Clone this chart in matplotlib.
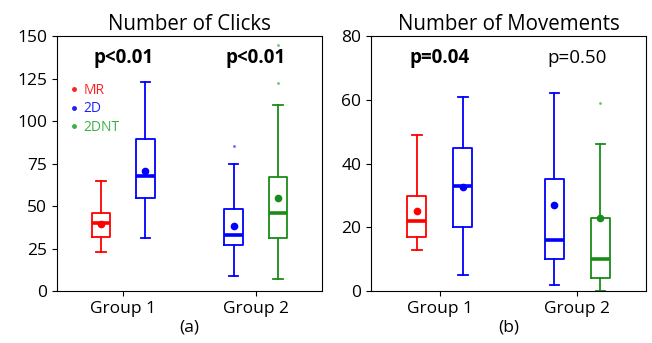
import numpy as np
import matplotlib
matplotlib.use("Agg")
import matplotlib.pyplot as plt
from matplotlib.lines import Line2D

plt.rcParams['font.family'] = ['Open Sans', 'DejaVu Sans']

groups = ["Group 1", "Group 2"]
conditions = [["MR", "2D"], ["2D", "2DNT"]]
colors = {"MR": "#ff0000", "2D": "#0000ff", "2DNT": "#1a8c1a"}
legend_colors = {"MR": "#ff2020", "2D": "#2020ff", "2DNT": "#3cb043"}

# clicks: whislo, q1, med, q3, whishi, mean, fliers
clicks_g1_mr = [23, 32, 40, 46, 65, 39.5, []]
clicks_g1_2d = [31, 54.5, 67.5, 89.5, 123, 70.5, []]
clicks_g2_2d = [9, 27, 33, 48, 75, 38.5, [85.5]]
clicks_g2_2dnt = [7, 31, 46, 67, 109.5, 54.5, [122.5, 145]]

moves_g1_mr = [13, 17, 22, 29.7, 49, 25, []]
moves_g1_2d = [5, 20, 33, 45, 61, 32.5, []]
moves_g2_2d = [2, 10, 16, 35, 62, 27, []]
moves_g2_2dnt = [0, 4, 10, 23, 46, 23, [59]]

clicks = [[clicks_g1_mr, clicks_g1_2d], [clicks_g2_2d, clicks_g2_2dnt]]
moves = [[moves_g1_mr, moves_g1_2d], [moves_g2_2d, moves_g2_2dnt]]

p_clicks = ["p<0.01", "p<0.01"]
p_clicks_bold = [True, True]
p_moves = ["p=0.04", "p=0.50"]
p_moves_bold = [True, False]

fig = plt.figure(figsize=(6.52, 3.43), dpi=100)
ax1 = fig.add_axes([0.0874, 0.1516, 0.4065, 0.7434])
ax2 = fig.add_axes([0.569, 0.1516, 0.422, 0.7434])


def draw(ax, data, ptexts, pbold, ymax, yticks, ptext_y, title, sub):
    for gi, grp in enumerate(data):
        for ci, vals in enumerate(grp):
            cond = conditions[gi][ci]
            c = colors[cond]
            st = dict(whislo=vals[0], q1=vals[1], med=vals[2], q3=vals[3],
                      whishi=vals[4], mean=vals[5], fliers=vals[6])
            pos = gi + 1 + (ci - 0.5) * 0.334
            ax.bxp([st], positions=[pos], widths=0.14, showmeans=True,
                   boxprops=dict(color=c, lw=1.3),
                   whiskerprops=dict(color=c, lw=1.3),
                   capprops=dict(color=c, lw=1.3),
                   medianprops=dict(color=c, lw=2.6),
                   meanprops=dict(marker='o', markerfacecolor=c, markeredgecolor=c, markersize=4.5),
                   flierprops=dict(marker='o', markerfacecolor=c, markeredgecolor='none',
                                   markersize=2, alpha=0.6),
                   manage_ticks=False)
        ax.text(gi + 1, ptext_y, ptexts[gi], ha='center', va='center', fontsize=13.5,
                fontweight='bold' if pbold[gi] else 'normal')
    ax.set_xlim(0.5, 2.5)
    ax.set_ylim(0, ymax)
    ax.set_yticks(yticks)
    ax.set_xticks([1, 2])
    ax.set_xticklabels(groups, fontsize=12.5)
    ax.tick_params(axis='y', labelsize=12.5)
    ax.set_title(title, fontsize=14.8, pad=4)
    ax.set_xlabel(sub, fontsize=12.5, labelpad=2)


draw(ax1, clicks, p_clicks, p_clicks_bold, 150, [0, 25, 50, 75, 100, 125, 150], 137,
     "Number of Clicks", "(a)")
draw(ax2, moves, p_moves, p_moves_bold, 80, [0, 20, 40, 60, 80], 73,
     "Number of Movements", "(b)")

handles = [Line2D([], [], ls='none', marker='o', markersize=2.5,
                  color=legend_colors[k]) for k in ["MR", "2D", "2DNT"]]
ax1.legend(handles, ["MR", "2D", "2DNT"], loc='upper left', bbox_to_anchor=(0.0, 0.865),
           frameon=False, fontsize=10, handlelength=0.6, handletextpad=0.4,
           labelspacing=0.25, labelcolor=[legend_colors[k] for k in ["MR", "2D", "2DNT"]])

fig.savefig("out.png", dpi=100)
